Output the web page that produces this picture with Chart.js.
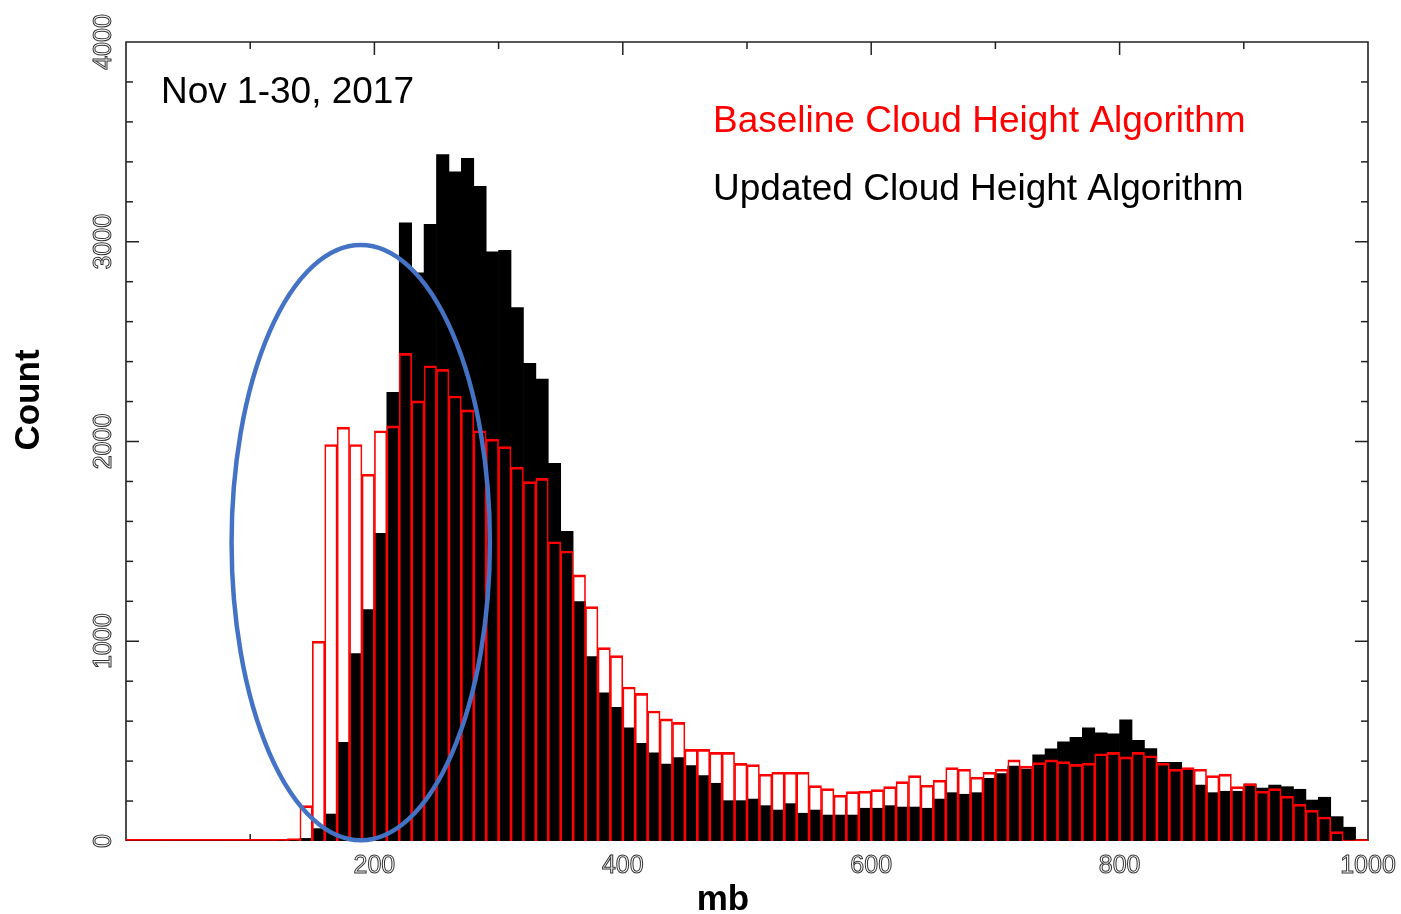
<!DOCTYPE html>
<html>
<head>
<meta charset="utf-8">
<script src="https://cdn.jsdelivr.net/npm/chart.js@4.4.1/dist/chart.umd.min.js"></script>
<style>
  html, body { margin: 0; padding: 0; background: #ffffff; overflow: hidden; }
  canvas { display: block; }
</style>
</head>
<body>
<canvas id="hist" width="1401" height="914"></canvas>
<script>
// Histogram bins: lower edge of each 10 mb pressure bin
const binStarts = [
    0,  10,  20,  30,  40,  50,  60,  70,  80,  90,
  100, 110, 120, 130, 140, 150, 160, 170, 180, 190,
  200, 210, 220, 230, 240, 250, 260, 270, 280, 290,
  300, 310, 320, 330, 340, 350, 360, 370, 380, 390,
  400, 410, 420, 430, 440, 450, 460, 470, 480, 490,
  500, 510, 520, 530, 540, 550, 560, 570, 580, 590,
  600, 610, 620, 630, 640, 650, 660, 670, 680, 690,
  700, 710, 720, 730, 740, 750, 760, 770, 780, 790,
  800, 810, 820, 830, 840, 850, 860, 870, 880, 890,
  900, 910, 920, 930, 940, 950, 960, 970, 980, 990
];
const binWidth = 10;

// Counts per bin, updated cloud height algorithm (black, filled)
const updatedCounts = [
     0,    0,    0,    0,    0,    0,    0,    0,    0,    0,
     0,    0,    3,    8,   13,   62,  135,  494,  938, 1158,
  1540, 2246, 3095, 2844, 3087, 3436, 3350, 3418, 3278, 2950,
  2957, 2671, 2391, 2313, 1891, 1550, 1198,  923,  742,  669,
   567,  489,  442,  385,  417,  377,  327,  289,  202,  202,
   210,  177,  155,  187,  139,  155,  130,  130,  130,  164,
   164,  177,  170,  170,  164,  210,  242,  234,  242,  314,
   337,  375,  360,  432,  462,  496,  519,  566,  542,  536,
   606,  504,  463,  394,  394,  355,  280,  242,  249,  249,
   285,  265,  280,  272,  259,  205,  219,  122,   69,    5
];

// Counts per bin, baseline cloud height algorithm (red, outlined)
const baselineCounts = [
     0,    0,    0,    0,    0,    0,    0,    0,    0,    0,
     0,    0,    8,   12,  177, 1000, 1985, 2072, 1985, 1836,
  2054, 2078, 2441, 2203, 2379, 2361, 2228, 2158, 2054, 2012,
  1974, 1871, 1799, 1815, 1498, 1452, 1332, 1173,  968,  928,
   771,  739,  651,  611,  594,  459,  459,  444,  444,  389,
   382,  334,  344,  344,  344,  277,  262,  230,  247,  250,
   257,  272,  297,  327,  279,  304,  367,  359,  320,  344,
   359,  406,  375,  392,  406,  397,  384,  390,  437,  444,
   421,  444,  427,  390,  359,  367,  359,  327,  335,  272,
   287,  249,  262,  224,  184,  154,  120,   47,    5,    3
];

// Axis tick labels
const xTickLabels = [200, 400, 600, 800, 1000];
const yTickLabels = [0, 1000, 2000, 3000, 4000];

const dateLabel = 'Nov 1-30, 2017';
const baselineLabel = 'Baseline Cloud Height Algorithm';
const updatedLabel = 'Updated Cloud Height Algorithm';
const xTitle = 'mb';
const yTitle = 'Count';

// Highlighted region (data units: mb, count)
const highlightRegion = { cx: 189, cy: 1494, rx: 104, ry: 1490 };

const toPoints = counts => counts.map((v, i) => ({ x: binStarts[i] + binWidth / 2, y: v }));

// Box frame with inward ticks, drawn beneath the bars
const framePlugin = {
  id: 'frame',
  beforeDatasetsDraw(chart) {
    const { ctx, chartArea: a, scales: { x, y } } = chart;
    const seg = (x1, y1, x2, y2) => { ctx.beginPath(); ctx.moveTo(x1, y1); ctx.lineTo(x2, y2); ctx.stroke(); };
    ctx.save();
    ctx.strokeStyle = '#222222';
    ctx.lineWidth = 1.5;
    for (let v = 200; v < 4000; v += 200) {
      const py = y.getPixelForValue(v);
      const len = v % 1000 === 0 ? 13 : 7;
      seg(a.left, py, a.left + len, py);
      seg(a.right, py, a.right - len, py);
    }
    for (let v = 100; v < 1000; v += 100) {
      const px = x.getPixelForValue(v);
      const len = v % 200 === 0 ? 13 : 7;
      seg(px, a.top, px, a.top + len);
      seg(px, a.bottom, px, a.bottom - len);
    }
    ctx.lineWidth = 1.6;
    ctx.beginPath();
    ctx.moveTo(a.left, a.bottom);
    ctx.lineTo(a.left, a.top);
    ctx.lineTo(a.right, a.top);
    ctx.lineTo(a.right, a.bottom);
    ctx.stroke();
    // zero line of the baseline histogram
    ctx.strokeStyle = '#ff0000';
    ctx.lineWidth = 2;
    seg(a.left, a.bottom - 1, a.right, a.bottom - 1);
    ctx.restore();
  },
  afterDatasetsDraw(chart) {
    const { ctx, chartArea: a, scales: { x, y } } = chart;
    ctx.save();
    // highlight ellipse
    const cx = x.getPixelForValue(highlightRegion.cx);
    const cy = y.getPixelForValue(highlightRegion.cy);
    const rx = Math.abs(x.getPixelForValue(highlightRegion.cx + highlightRegion.rx) - cx);
    const ry = Math.abs(y.getPixelForValue(highlightRegion.cy + highlightRegion.ry) - cy);
    ctx.strokeStyle = '#4472c4';
    ctx.lineWidth = 4.5;
    ctx.beginPath();
    ctx.ellipse(cx, cy, rx, ry, 0, 0, Math.PI * 2);
    ctx.stroke();

    // tick labels (outlined digits)
    ctx.strokeStyle = '#333333';
    ctx.lineWidth = 1;
    ctx.font = '25px "Liberation Sans", Arial, sans-serif';
    ctx.textAlign = 'center';
    ctx.textBaseline = 'alphabetic';
    xTickLabels.forEach(v => {
      ctx.strokeText(String(v), x.getPixelForValue(v), a.bottom + 32);
    });
    yTickLabels.forEach(v => {
      ctx.save();
      ctx.translate(a.left - 15, y.getPixelForValue(v));
      ctx.rotate(-Math.PI / 2);
      ctx.strokeText(String(v), 0, 0);
      ctx.restore();
    });

    // axis titles
    ctx.fillStyle = '#000000';
    ctx.font = 'bold 35px "Liberation Sans", Arial, sans-serif';
    ctx.fillText(xTitle, 723, 910);
    ctx.save();
    ctx.translate(39, 400);
    ctx.rotate(-Math.PI / 2);
    ctx.fillText(yTitle, 0, 0);
    ctx.restore();

    // annotations
    ctx.textAlign = 'left';
    ctx.font = '37px "Liberation Sans", Arial, sans-serif';
    ctx.fillStyle = '#000000';
    ctx.fillText(dateLabel, 161, 103);
    ctx.fillStyle = '#ff0000';
    ctx.fillText(baselineLabel, 713, 132);
    ctx.fillStyle = '#000000';
    ctx.fillText(updatedLabel, 713, 200);
    ctx.restore();
  }
};

new Chart(document.getElementById('hist'), {
  type: 'bar',
  data: {
    datasets: [
      {
        label: baselineLabel,
        data: toPoints(baselineCounts),
        backgroundColor: 'rgba(0,0,0,0)',
        borderColor: '#ff0000',
        borderWidth: { top: 2, left: 1, right: 1, bottom: 0 },
        borderSkipped: false,
        grouped: false,
        barPercentage: 1,
        categoryPercentage: 1,
        order: 0
      },
      {
        label: updatedLabel,
        data: toPoints(updatedCounts),
        backgroundColor: '#000000',
        borderWidth: 0,
        grouped: false,
        barPercentage: 1,
        categoryPercentage: 1,
        order: 1
      }
    ]
  },
  options: {
    responsive: false,
    animation: false,
    devicePixelRatio: 1,
    layout: { padding: { top: 42, right: 33, left: 0, bottom: 0 } },
    plugins: { legend: { display: false }, tooltip: { enabled: false }, title: { display: false } },
    scales: {
      x: {
        type: 'linear', min: 0, max: 1000, offset: false,
        grid: { display: false, offset: false }, border: { display: false },
        ticks: { display: false },
        afterFit(s) { s.height = 73; }
      },
      y: {
        type: 'linear', min: 0, max: 4000,
        grid: { display: false }, border: { display: false },
        ticks: { display: false },
        afterFit(s) { s.width = 126; }
      }
    }
  },
  plugins: [framePlugin]
});
</script>
</body>
</html>
